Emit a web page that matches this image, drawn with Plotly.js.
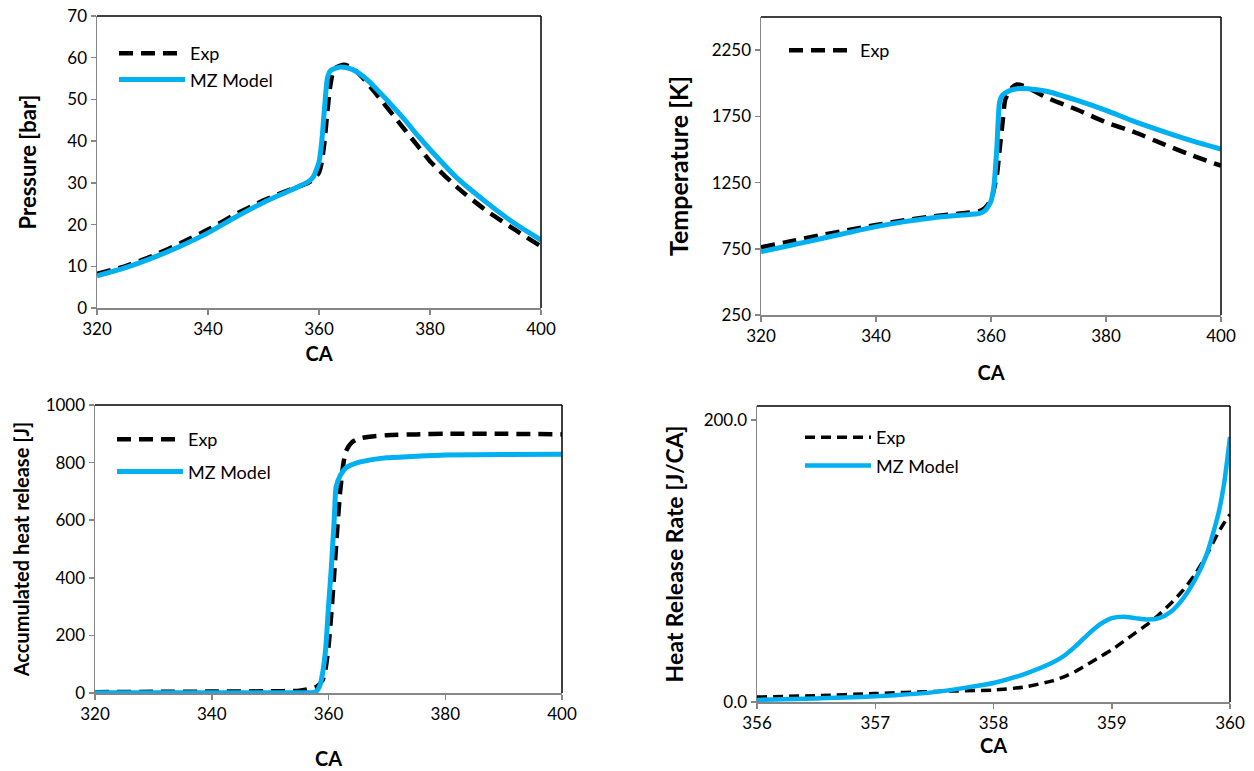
<!DOCTYPE html>
<html>
<head>
<meta charset="utf-8">
<script src="https://cdn.plot.ly/plotly-3.0.1.min.js"></script>
<style>
  html, body { margin: 0; padding: 0; background: #fff; }
  #chart { width: 1254px; height: 771px; }
</style>
</head>
<body>
<div id="chart"></div>
<script>
// ---------- Panel 1: Pressure [bar] ----------
const pExpCA  = [320, 325, 330, 335, 340, 345, 350, 355, 358, 359, 360, 360.5, 361, 361.5, 362, 362.5, 363, 364.5, 366, 368, 370, 375, 378, 380, 385, 390, 395, 400];
const pExpVal = [8.2, 10, 12.5, 15.5, 18.8, 22.5, 25.8, 28.5, 30, 30.8, 32.5, 35, 40, 47, 53, 56.5, 57.6, 58.3, 57.6, 55, 51.8, 43.5, 38.5, 35.2, 28.8, 23.5, 19, 14.8];
const pMzCA   = [320, 325, 330, 335, 340, 345, 350, 355, 358, 359, 360, 360.5, 361, 361.5, 362, 363, 364, 365, 366, 368, 370, 375, 378, 380, 385, 390, 395, 400];
const pMzVal  = [7.7, 9.6, 12, 14.8, 18, 21.8, 25.3, 28.3, 30.2, 31.5, 35, 40, 48, 55, 56.8, 57.5, 57.8, 57.6, 57.2, 55.5, 53, 45.8, 41, 38, 31, 25.5, 20.5, 16.3];

// ---------- Panel 2: Temperature [K] ----------
const tExpCA  = [320, 325, 330, 335, 340, 345, 350, 355, 358, 359, 360, 361, 361.5, 362, 362.5, 363.5, 364.5, 366, 368, 370, 375, 380, 385, 390, 395, 400];
const tExpVal = [761, 805, 850, 890, 929, 965, 995, 1018, 1035, 1060, 1120, 1300, 1500, 1700, 1880, 1960, 1990, 1975, 1930, 1885, 1800, 1705, 1630, 1540, 1455, 1377];
const tMzCA   = [320, 325, 330, 335, 340, 345, 350, 355, 358, 359, 360, 360.5, 361, 361.5, 362, 363, 364, 365.5, 368, 370, 375, 380, 385, 390, 395, 400];
const tMzVal  = [728, 775, 822, 870, 917, 955, 985, 1005, 1017, 1040, 1110, 1220, 1500, 1860, 1910, 1940, 1955, 1960, 1950, 1936, 1870, 1795, 1710, 1635, 1565, 1503];

// ---------- Panel 3: Accumulated heat release [J] ----------
const aExpCA  = [320, 330, 340, 350, 355, 357, 358, 359, 359.5, 360, 360.5, 361, 361.5, 362, 362.5, 363, 364, 365, 367, 370, 375, 380, 390, 400];
const aExpVal = [3, 4, 5, 6, 8, 15, 22, 45, 85, 160, 280, 420, 570, 700, 790, 840, 870, 882, 890, 895, 898, 900, 900, 898];
const aMzCA   = [320, 330, 340, 350, 357, 357.5, 358, 358.5, 359, 359.5, 360, 360.5, 361, 361.3, 362, 363, 365, 368, 370, 375, 380, 390, 400];
const aMzVal  = [1, 1, 1, 1, 1, 2, 8, 25, 70, 150, 300, 440, 610, 715, 755, 782, 800, 812, 817, 822, 826, 828, 829];

// ---------- Panel 4: Heat Release Rate [J/CA] ----------
const hCA     = [356, 356.5, 357, 357.5, 358, 358.25, 358.5, 358.6, 358.7, 358.8, 358.9, 359, 359.1, 359.2, 359.3, 359.4, 359.5, 359.6, 359.7, 359.8, 359.9, 359.95, 360];
const hExpVal = [3.5, 4.5, 6, 7.5, 8.5, 10.5, 15, 18, 22, 27, 32, 37, 43, 49, 55, 62, 70, 79, 90, 104, 120, 127, 133];
const hMzVal  = [1.5, 2.5, 4, 7, 13.5, 19.5, 28, 33, 40, 48, 55, 59.5, 60.5, 59.5, 58.5, 59.5, 64, 73, 86, 104, 133, 155, 188];

const BLUE = '#00B0F0';
const FONT = 'Lato, "Open Sans", "Liberation Sans", sans-serif';
const GRAY = '#868686';

function expTrace(x, y, xa, ya, leg, w, dash, show) {
  return { x: x, y: y, xaxis: xa, yaxis: ya, mode: 'lines', name: 'Exp',
    legend: leg, legendgroup: leg + 'a', showlegend: show,
    line: { color: '#000', width: w, dash: dash, shape: 'spline', smoothing: 0.6 } };
}
function mzTrace(x, y, xa, ya, leg, w, show) {
  return { x: x, y: y, xaxis: xa, yaxis: ya, mode: 'lines', name: 'MZ Model',
    legend: leg, legendgroup: leg + 'b', showlegend: show,
    line: { color: BLUE, width: w, shape: 'spline', smoothing: 0.6 } };
}

const traces = [
  expTrace(pExpCA, pExpVal, 'x', 'y', 'legend', 4.5, '14px,8px', true),
  mzTrace(pMzCA, pMzVal, 'x', 'y', 'legend', 5, true),
  expTrace(tExpCA, tExpVal, 'x2', 'y2', 'legend2', 4.5, '14px,8px', true),
  mzTrace(tMzCA, tMzVal, 'x2', 'y2', 'legend2', 5, false),
  expTrace(aExpCA, aExpVal, 'x3', 'y3', 'legend3', 4.5, '14px,8px', true),
  mzTrace(aMzCA, aMzVal, 'x3', 'y3', 'legend3', 5, true),
  expTrace(hCA, hExpVal, 'x4', 'y4', 'legend4', 3.5, '10px,6px', true),
  mzTrace(hCA, hMzVal, 'x4', 'y4', 'legend4', 4.5, true)
];

const W = 1254, H = 771;
function xd(a, b) { return [a / W, b / W]; }
function yd(top, bottom) { return [1 - bottom / H, 1 - top / H]; }

function xAxis(dom, range, dtick, anchor, standoff) {
  return { domain: dom, range: range, dtick: dtick, tick0: range[0], anchor: anchor,
    showgrid: false, zeroline: false, showline: true, linecolor: GRAY, linewidth: 1.5,
    ticks: 'outside', ticklen: 5, tickcolor: GRAY, tickwidth: 1.5,
    tickfont: { family: FONT, size: 17, color: '#000' },
    title: { text: 'CA', standoff: standoff, font: { family: FONT, size: 20, color: '#000', weight: 'bold' } } };
}
function yAxis(dom, range, tick0, dtick, anchor, title, tsize, standoff, fmt) {
  const a = { domain: dom, range: range, dtick: dtick, tick0: tick0, anchor: anchor,
    showgrid: false, zeroline: false, showline: true, linecolor: GRAY, linewidth: 1.5,
    ticks: 'outside', ticklen: 5, tickcolor: GRAY, tickwidth: 1.5,
    tickfont: { family: FONT, size: 17, color: '#000' },
    title: { text: title, standoff: standoff, font: { family: FONT, size: tsize, color: '#000', weight: 'bold' } } };
  if (fmt) a.tickformat = fmt;
  return a;
}

function border(xa, ya) {
  const xr = xa + ' domain', yr = ya + ' domain';
  return [
    { type: 'line', xref: xr, yref: yr, x0: 0, x1: 1, y0: 1, y1: 1, line: { color: '#000', width: 1.5 } },
    { type: 'line', xref: xr, yref: yr, x0: 1, x1: 1, y0: 0, y1: 1, line: { color: '#000', width: 1.5 } }
  ];
}

function legendAt(px, py, gap) {
  return { x: px / W, y: 1 - py / H, xanchor: 'left', yanchor: 'top', bgcolor: 'rgba(0,0,0,0)',
    borderwidth: 0, itemwidth: 66, tracegroupgap: gap, traceorder: 'grouped',
    font: { family: FONT, size: 18, color: '#000' } };
}

const layout = {
  width: W, height: H,
  margin: { l: 0, r: 0, t: 0, b: 0 },
  paper_bgcolor: '#fff', plot_bgcolor: '#fff',
  showlegend: true,
  xaxis:  xAxis(xd(97, 541), [320, 400], 20, 'y', 9),
  yaxis:  yAxis(yd(16, 308), [0, 70], 0, 10, 'x', 'Pressure [bar]', 22, 24),
  xaxis2: xAxis(xd(761, 1221), [320, 400], 20, 'y2', 21),
  yaxis2: yAxis(yd(17, 315), [250, 2500], 250, 500, 'x2', 'Temperature [K]', 25, 16),
  xaxis3: xAxis(xd(95, 562), [320, 400], 20, 'y3', 29),
  yaxis3: yAxis(yd(405, 693), [0, 1000], 0, 200, 'x3', 'Accumulated heat release [J]', 20, 10),
  xaxis4: xAxis(xd(757, 1230), [356, 360], 1, 'y4', 4),
  yaxis4: yAxis(yd(406, 702), [0, 210], 0, 200, 'x4', 'Heat Release Rate [J/CA]', 23, 13, '.1f'),
  legend:  legendAt(114, 35, 0),
  legend2: legendAt(784, 32, 0),
  legend3: legendAt(112, 421, 6),
  legend4: legendAt(800, 419, 2),
  shapes: [].concat(border('x', 'y'), border('x2', 'y2'), border('x3', 'y3'), border('x4', 'y4'))
};

Plotly.newPlot('chart', traces, layout, { staticPlot: true, displayModeBar: false });
</script>
</body>
</html>
